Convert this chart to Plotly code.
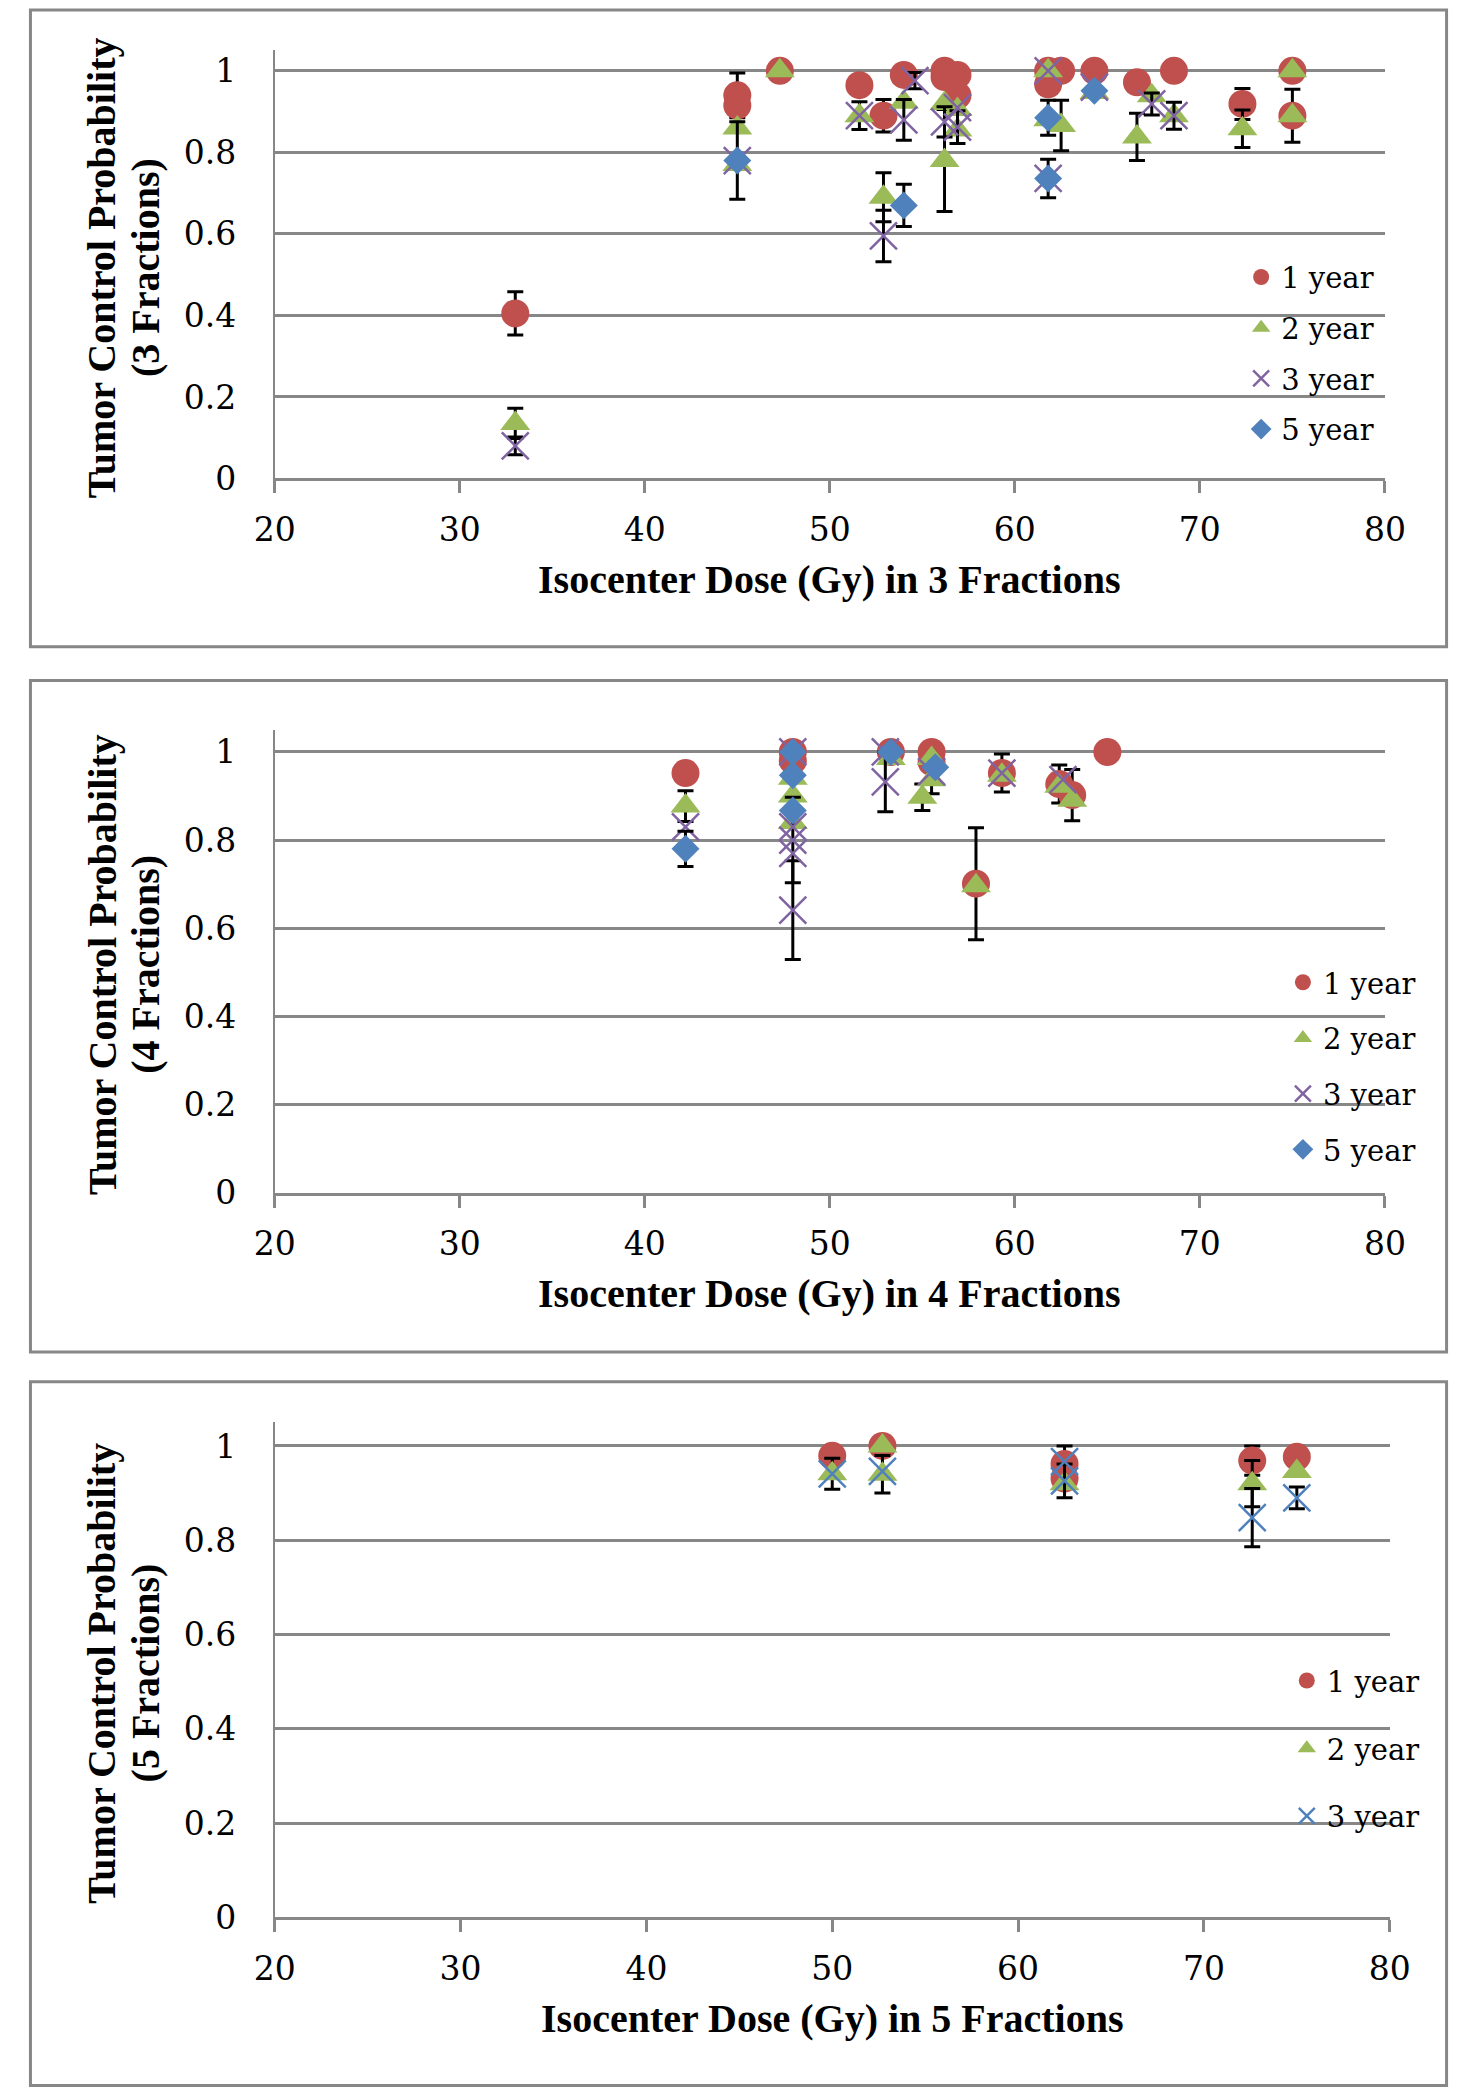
import plotly.graph_objects as go

# ---------------- Data: 3 fractions ----------------
f3_1yr_x = [33, 45, 45, 47.3, 51.6, 52.9, 54.0, 56.2, 56.2, 56.9, 56.9, 61.8, 61.8, 62.5, 64.3, 66.6, 68.6, 72.3, 75, 75]
f3_1yr_y = [0.405, 0.94, 0.915, 1.0, 0.965, 0.89, 0.99, 1.0, 0.985, 0.99, 0.94, 1.0, 0.967, 1.0, 1.0, 0.972, 1.0, 0.919, 1.0, 0.89]
f3_1yr_e = [0.053, 0.055, None, None, None, 0.04, None, None, None, None, None, None, None, None, None, None, None, 0.038, None, 0.065]

f3_2yr_x = [33, 45, 45, 47.3, 51.6, 52.9, 54.0, 56.2, 56.2, 56.9, 56.9, 61.8, 61.8, 62.5, 64.3, 66.6, 67.4, 68.6, 72.3, 75, 75]
f3_2yr_y = [0.135, 0.86, 0.77, 1.0, 0.89, 0.69, 0.923, 0.92, 0.78, 0.905, 0.855, 1.0, 0.88, 0.866, 0.947, 0.838, 0.939, 0.89, 0.858, 1.0, 0.89]
f3_2yr_e = [0.037, None, None, None, 0.034, 0.06, None, None, 0.125, None, None, None, None, 0.062, None, 0.058, None, None, 0.046, None, None]

f3_3yr_x = [33, 45, 51.6, 52.9, 54.0, 54.6, 56.2, 56.9, 56.9, 61.8, 61.8, 64.3, 67.4, 68.6]
f3_3yr_y = [0.08, 0.78, 0.89, 0.595, 0.88, 0.976, 0.875, 0.91, 0.862, 1.0, 0.736, 0.96, 0.919, 0.89]
f3_3yr_e = [0.022, None, None, 0.063, 0.05, 0.02, 0.037, None, 0.04, None, None, None, 0.027, 0.033]

f3_5yr_x = [45, 54.0, 61.8, 61.8, 64.3]
f3_5yr_y = [0.78, 0.67, 0.885, 0.736, 0.951]
f3_5yr_e = [0.095, 0.052, 0.043, 0.047, None]

# ---------------- Data: 4 fractions ----------------
f4_1yr_x = [42.2, 48.0, 48.0, 53.3, 55.5, 55.5, 57.9, 59.3, 62.4, 63.1, 65.0]
f4_1yr_y = [0.952, 1.0, 0.98, 1.0, 1.0, 0.977, 0.701, 0.952, 0.927, 0.902, 1.0]
f4_1yr_e = [None, None, None, None, None, None, 0.127, 0.043, 0.043, 0.058, None]

f4_2yr_x = [42.2, 48.0, 48.0, 48.0, 53.3, 55.0, 55.5, 55.5, 57.9, 59.3, 62.4, 63.1]
f4_2yr_y = [0.877, 0.94, 0.90, 0.84, 0.985, 0.897, 0.985, 0.937, 0.696, 0.947, 0.922, 0.89]
f4_2yr_e = [0.035, None, None, None, None, 0.03, None, 0.032, None, None, None, None]

f4_3yr_x = [42.2, 48.0, 48.0, 48.0, 48.0, 48.0, 53.0, 53.0, 55.5, 59.3, 62.6]
f4_3yr_y = [0.83, 1.0, 0.83, 0.80, 0.77, 0.641, 1.0, 0.932, 0.955, 0.952, 0.937]
f4_3yr_e = [None, None, None, 0.097, None, 0.112, None, 0.068, None, None, None]

f4_5yr_x = [42.2, 48.0, 48.0, 48.0, 53.3, 55.7]
f4_5yr_y = [0.78, 1.0, 0.947, 0.867, 1.0, 0.965]
f4_5yr_e = [0.04, None, None, None, None, None]

# ---------------- Data: 5 fractions ----------------
f5_1yr_x = [50, 52.7, 62.5, 62.5, 72.6, 75]
f5_1yr_y = [0.979, 1.0, 0.962, 0.931, 0.969, 0.977]
f5_1yr_e = [None, None, 0.038, None, 0.031, None]

f5_2yr_x = [50, 52.7, 52.7, 62.5, 72.6, 75]
f5_2yr_y = [0.941, 1.0, 0.94, 0.92, 0.92, 0.946]
f5_2yr_e = [0.033, None, 0.04, None, 0.049, None]

f5_3yr_x = [50, 52.7, 62.5, 62.5, 72.6, 75]
f5_3yr_y = [0.941, 0.946, 0.967, 0.926, 0.848, 0.89]
f5_3yr_e = [None, None, None, 0.036, 0.062, 0.023]

x_ticks = [20, 30, 40, 50, 60, 70, 80]
y_ticks = [0, 0.2, 0.4, 0.6, 0.8, 1]
x_titles = ["Isocenter Dose (Gy) in 3 Fractions", "Isocenter Dose (Gy) in 4 Fractions", "Isocenter Dose (Gy) in 5 Fractions"]
y_title_1 = "Tumor Control Probability"
y_title_2 = ["(3 Fractions)", "(4 Fractions)", "(5 Fractions)"]

# ---------------- Styling ----------------
W, H = 1462, 2100
RED, GREEN, PURPLE, BLUE = "#C0504D", "#9BBB59", "#8064A2", "#4F81BD"
GRAY = "#878787"
TICK_FONT = dict(family="DejaVu Serif", size=33, color="black")
LEG_FONT = dict(family="DejaVu Serif", size=29, color="black")
TITLE_FONT = dict(family="Liberation Serif", size=40, color="black")


def px_x(p):
    return p / W


def px_y(p):
    return 1 - p / H


# panel geometry in pixels
panels = [
    dict(l=253, r=1396, y0=475, y1=42.9, bt=2, bb=645, leg_x=1248, leg_y=246, gap=10),
    dict(l=253, r=1396, y0=1196, y1=728.8, bt=679, bb=1357, leg_x=1291, leg_y=958, gap=15),
    dict(l=253, r=1401, y0=1927.7, y1=1428, bt=1387, bb=2097.5, leg_x=1295, leg_y=1663, gap=27),
]

fig = go.Figure()


def add_series(x, y, e, name, symbol, size, color, idx, open_sym=False):
    xa = "x" if idx == 0 else "x%d" % (idx + 1)
    ya = "y" if idx == 0 else "y%d" % (idx + 1)
    leg = "legend" if idx == 0 else "legend%d" % (idx + 1)
    ex = [a for a, b in zip(x, e) if b is not None]
    ey = [a for a, b in zip(y, e) if b is not None]
    ee = [b for b in e if b is not None]
    if ee:
        fig.add_trace(go.Scatter(
            x=ex, y=ey, mode="markers", xaxis=xa, yaxis=ya,
            marker=dict(size=2, color="rgba(0,0,0,0)"),
            error_y=dict(type="data", array=ee, visible=True, color="black", thickness=3, width=8),
            showlegend=False, hoverinfo="skip"))
    if open_sym:
        marker = dict(symbol=symbol, size=size, color=color, line=dict(color=color, width=2.5))
    else:
        marker = dict(symbol=symbol, size=size, color=color, line=dict(width=0))
    fig.add_trace(go.Scatter(
        x=x, y=y, mode="markers", name=name, xaxis=xa, yaxis=ya,
        marker=marker, legend=leg, legendgroup=name + str(idx), showlegend=True))


add_series(f3_1yr_x, f3_1yr_y, f3_1yr_e, "1 year", "circle", 28, RED, 0)
add_series(f3_2yr_x, f3_2yr_y, f3_2yr_e, "2 year", "triangle-up", 26, GREEN, 0)
add_series(f3_3yr_x, f3_3yr_y, f3_3yr_e, "3 year", "x-thin-open", 27, PURPLE, 0, True)
add_series(f3_5yr_x, f3_5yr_y, f3_5yr_e, "5 year", "diamond", 21.5, BLUE, 0)

add_series(f4_1yr_x, f4_1yr_y, f4_1yr_e, "1 year", "circle", 28, RED, 1)
add_series(f4_2yr_x, f4_2yr_y, f4_2yr_e, "2 year", "triangle-up", 26, GREEN, 1)
add_series(f4_3yr_x, f4_3yr_y, f4_3yr_e, "3 year", "x-thin-open", 27, PURPLE, 1, True)
add_series(f4_5yr_x, f4_5yr_y, f4_5yr_e, "5 year", "diamond", 21.5, BLUE, 1)

add_series(f5_1yr_x, f5_1yr_y, f5_1yr_e, "1 year", "circle", 28, RED, 2)
add_series(f5_2yr_x, f5_2yr_y, f5_2yr_e, "2 year", "triangle-up", 26, GREEN, 2)
add_series(f5_3yr_x, f5_3yr_y, f5_3yr_e, "3 year", "x-thin-open", 27, BLUE, 2, True)

layout = dict(
    width=W, height=H, margin=dict(l=0, r=0, t=0, b=0, pad=0),
    paper_bgcolor="white", plot_bgcolor="white",
    font=dict(family="DejaVu Serif", color="black"),
    hovermode=False,
)

shapes = []
annotations = []
for i, p in enumerate(panels):
    sx = "" if i == 0 else str(i + 1)
    layout["xaxis" + sx] = dict(
        domain=[px_x(p["l"]), px_x(p["r"])], anchor="y" + sx,
        range=[20, 80], tickmode="array", tickvals=x_ticks,
        showline=True, linecolor=GRAY, linewidth=3,
        ticks="outside", ticklen=12, tickwidth=2.5, tickcolor=GRAY,
        showgrid=False, zeroline=False, tickfont=TICK_FONT, ticklabelstandoff=8,
        fixedrange=True)
    layout["yaxis" + sx] = dict(
        domain=[px_y(p["y0"]), px_y(p["y1"])], anchor="x" + sx,
        range=[0, 1.05], tickmode="array", tickvals=y_ticks,
        showline=True, linecolor=GRAY, linewidth=2,
        ticks="", showgrid=True, gridcolor=GRAY, gridwidth=3,
        zeroline=False, tickfont=TICK_FONT, ticklabelstandoff=30,
        fixedrange=True)
    leg = "legend" + sx
    layout[leg] = dict(
        x=px_x(p["leg_x"]), y=px_y(p["leg_y"]), xanchor="left", yanchor="top",
        bgcolor="rgba(0,0,0,0)", borderwidth=0, font=LEG_FONT,
        traceorder="grouped", tracegroupgap=p["gap"], itemsizing="trace")
    shapes.append(dict(
        type="rect", xref="paper", yref="paper",
        x0=px_x(1.5), x1=px_x(1459.5), y0=px_y(p["bb"]), y1=px_y(p["bt"]),
        line=dict(color=GRAY, width=3), fillcolor="rgba(0,0,0,0)", layer="below"))
    cx = px_x((p["l"] + p["r"]) / 2)
    annotations.append(dict(
        text="<b>" + x_titles[i] + "</b>", xref="paper", yref="paper",
        x=cx, y=px_y(p["y0"] + 102), xanchor="center", yanchor="middle",
        showarrow=False, font=TITLE_FONT))
    cy = px_y((p["y0"] + p["y1"]) / 2 + 3)
    annotations.append(dict(
        text="<b>" + y_title_1 + "</b>", xref="paper", yref="paper",
        x=px_x(75), y=cy, xanchor="center", yanchor="middle", textangle=-90,
        showarrow=False, font=TITLE_FONT))
    annotations.append(dict(
        text="<b>" + y_title_2[i] + "</b>", xref="paper", yref="paper",
        x=px_x(120), y=cy, xanchor="center", yanchor="middle", textangle=-90,
        showarrow=False, font=TITLE_FONT))

layout["shapes"] = shapes
layout["annotations"] = annotations
fig.update_layout(**layout)

fig.write_html("out.html")
